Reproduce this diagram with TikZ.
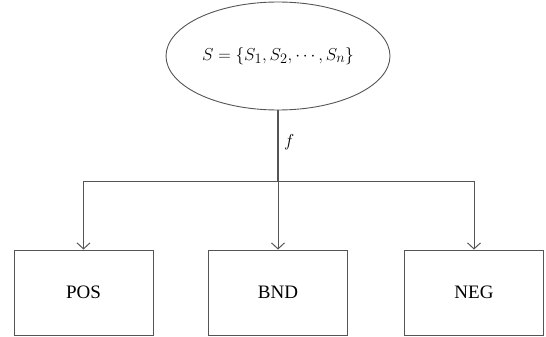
\documentclass[tikz,border=0pt]{standalone}
\usepackage{fontspec}
\setmainfont{Liberation Serif}
\usetikzlibrary{arrows.meta,shapes.geometric}
\definecolor{linegray}{HTML}{555555}
\tikzset{
  box/.style={draw=linegray, line width=0.9pt, minimum width=139pt, minimum height=85pt, inner sep=0pt, font=\fontsize{19}{22}\selectfont},
  setnode/.style={draw=linegray, line width=0.9pt, ellipse, minimum width=224pt, minimum height=108pt, inner sep=0pt, font=\fontsize{19}{22}\selectfont},
  conn/.style={draw=linegray, line width=1pt},
  arr/.style={conn, -{Straight Barb[length=6pt,width=13pt]}}
}
\begin{document}
\begin{tikzpicture}[x=1pt,y=-1pt]
\useasboundingbox (0,0) rectangle (546,337);
\node[setnode] (S) at (278,56) {$S=\{S_1,S_2,\cdots,S_n\}$};
\node[box] (pos) at (83.5,292.5) {POS};
\node[box] (bnd) at (278,292.5) {BND};
\node[box] (neg) at (474,292.5) {NEG};
\coordinate (j) at (278,181);
\draw[conn, line width=1.5pt] (S.south) -- node[right, xshift=2pt, pos=0.45, font=\fontsize{19}{22}\selectfont] {$f$} (j);
\draw[conn] (pos.north |- j) -- (neg.north |- j);
\draw[arr] (j) -| (pos.north);
\draw[arr] (j) -- (bnd.north);
\draw[arr] (j) -| (neg.north);
\end{tikzpicture}
\end{document}
